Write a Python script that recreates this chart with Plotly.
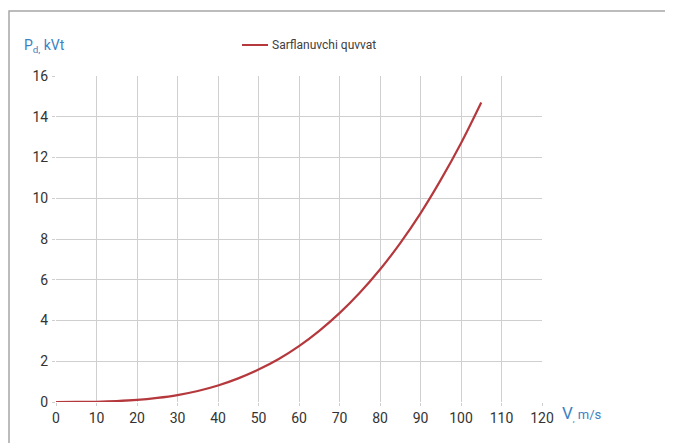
import plotly.graph_objects as go

# Data
speed_v = [0, 5, 10, 15, 20, 25, 30, 35, 40, 45, 50, 55, 60, 65, 70, 75, 80, 85, 90, 95, 100, 105]
power_pd = [0, 0.002, 0.013, 0.043, 0.10, 0.20, 0.34, 0.54, 0.81, 1.16, 1.59, 2.11,
            2.74, 3.49, 4.36, 5.36, 6.50, 7.80, 9.26, 10.9, 12.7, 14.7]
x_ticks = [0, 10, 20, 30, 40, 50, 60, 70, 80, 90, 100, 110, 120]
y_ticks = [0, 2, 4, 6, 8, 10, 12, 14, 16]
series_name = "Sarflanuvchi quvvat"

OFF = 8  # page body margin
W, H = 673, 443
PL, PR, PT, PB = 56, 542, 76, 402  # plot area in page pixels
L = PL - OFF
T = PT - OFF
PW, PH = PR - PL, PB - PT
R = W - L - PW
B = H - T - PH

def px(xp):
    return (xp - PL) / PW

def py(yp):
    return (PB - yp) / PH

fig = go.Figure()
fig.add_trace(go.Scatter(
    x=speed_v, y=power_pd, mode="lines", name=series_name,
    line=dict(color="#B5383D", width=2.2, shape="spline"),
    showlegend=False,
))

font_fam = "Roboto, Arial, sans-serif"
grid_c = "#CFCFCF"

fig.update_layout(
    width=W, height=H,
    margin=dict(l=L, r=R, t=T, b=B, autoexpand=False),
    paper_bgcolor="white", plot_bgcolor="white",
    xaxis=dict(range=[0, 120], tickvals=x_ticks, showgrid=True, gridcolor=grid_c, gridwidth=1,
               zeroline=False, showline=False, ticks="outside", ticklen=3, tickcolor=grid_c,
               ticklabelstandoff=0,
               tickfont=dict(family=font_fam, size=14, color="#333333")),
    yaxis=dict(range=[0, 16], tickvals=y_ticks, showgrid=True, gridcolor=grid_c, gridwidth=1,
               zeroline=False, showline=False, ticks="outside", ticklen=3, tickcolor=grid_c,
               ticklabelstandoff=1,
               tickfont=dict(family=font_fam, size=14, color="#333333")),
    showlegend=False,
)

# Outer chart border
fig.add_shape(type="rect", xref="paper", yref="paper",
              x0=px(9), x1=px(668), y0=py(460), y1=py(11),
              line=dict(color="#A6A6A6", width=1.5), layer="below")

# Legend (manual, to match position)
fig.add_shape(type="line", xref="paper", yref="paper",
              x0=px(242), x1=px(268), y0=py(45), y1=py(45),
              line=dict(color="#B5383D", width=2))
fig.add_annotation(xref="paper", yref="paper", x=px(270), y=py(45), xanchor="left", yanchor="middle",
                   text=series_name, showarrow=False,
                   font=dict(family=font_fam, size=12, color="#404040"))

# Axis titles
fig.add_annotation(xref="paper", yref="paper", x=px(22), y=py(46), xanchor="left", yanchor="middle",
                   text="P<sub>d,</sub> kVt", showarrow=False,
                   font=dict(family=font_fam, size=14, color="#3B82C4"))
fig.add_annotation(xref="paper", yref="paper", x=px(560), y=py(413), xanchor="left", yanchor="middle",
                   text="<span style='font-size:17px'>V</span><sub>,</sub> m/s", showarrow=False,
                   font=dict(family=font_fam, size=13, color="#3B82C4"))

fig.write_html("out.html")
